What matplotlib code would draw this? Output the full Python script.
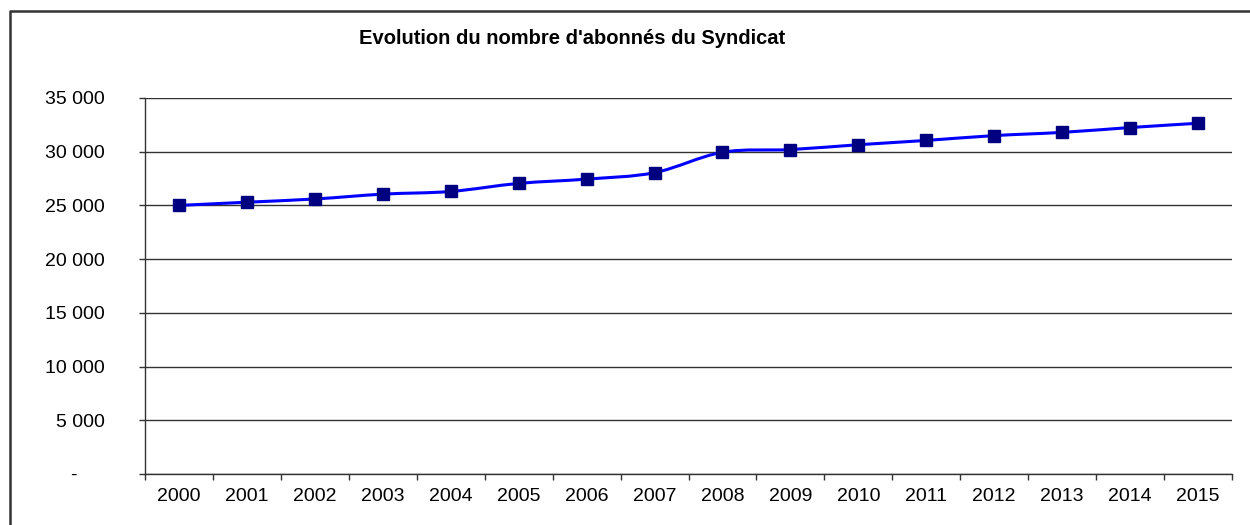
import numpy as np
import matplotlib
matplotlib.use("Agg")
import matplotlib.pyplot as plt
from matplotlib.path import Path
from matplotlib.patches import PathPatch
from matplotlib.lines import Line2D
from matplotlib.ticker import FuncFormatter, FixedLocator

# données
annees = [str(a) for a in range(2000, 2016)]
abonnes = [25000, 25300, 25600, 26050, 26300, 27050, 27450, 28050,
           29950, 30200, 30650, 31050, 31500, 31800, 32250, 32650]
titre = "Evolution du nombre d'abonnés du Syndicat"

plt.rcParams["font.family"] = ["Liberation Sans", "DejaVu Sans"]

fig = plt.figure(figsize=(12.5, 5.25), dpi=100)
ax = fig.add_axes([145/1250, 1-474/525, (1232-145)/1250, (474-98)/525])

x = np.arange(len(abonnes))
y = np.array(abonnes, dtype=float)

# courbe lissée façon Excel (Bezier type Catmull-Rom)
verts = [(x[0], y[0])]
codes = [Path.MOVETO]
n = len(x)
for i in range(n-1):
    p0 = np.array([x[max(i-1, 0)], y[max(i-1, 0)]])
    p1 = np.array([x[i], y[i]])
    p2 = np.array([x[i+1], y[i+1]])
    p3 = np.array([x[min(i+2, n-1)], y[min(i+2, n-1)]])
    c1 = p1 + (p2 - p0) / 6
    c2 = p2 - (p3 - p1) / 6
    verts += [tuple(c1), tuple(c2), tuple(p2)]
    codes += [Path.CURVE4] * 3
courbe = PathPatch(Path(verts, codes), facecolor="none", edgecolor="#0000FF",
                   linewidth=2.2, zorder=3)
ax.add_patch(courbe)
ax.plot(x, y, linestyle="none", marker="s", markersize=8, color="#000080", zorder=4)

ax.set_xlim(-0.5, len(abonnes) - 0.5)
ax.set_ylim(0, 35000)
ax.set_yticks(np.arange(0, 35001, 5000))

def fmt(v, pos):
    if v == 0:
        return "-     "
    return "{:,.0f}".format(v).replace(",", " ")
ax.yaxis.set_major_formatter(FuncFormatter(fmt))

ax.xaxis.set_major_locator(FixedLocator(np.arange(-0.5, len(abonnes), 1.0)))
ax.xaxis.set_major_formatter(FuncFormatter(lambda v, p: ""))
ax.xaxis.set_minor_locator(FixedLocator(x))
ax.set_xticklabels(annees, minor=True)

ax.tick_params(axis="x", which="major", direction="out", length=4, width=1, color="#333333")
ax.tick_params(axis="x", which="minor", length=0, pad=10, labelsize=14)
ax.tick_params(axis="y", direction="out", length=4, width=1, color="#333333",
               pad=25, labelsize=14)

ax.grid(axis="y", color="#333333", linewidth=1)
ax.set_axisbelow(True)
for s in ["top", "right"]:
    ax.spines[s].set_visible(False)
for s in ["left", "bottom"]:
    ax.spines[s].set_color("#333333")
    ax.spines[s].set_linewidth(1)

fig.text(572/1250, 1-39/525, titre, ha="center", va="center",
         fontsize=14.5, fontweight="bold")

# cadre extérieur
fig.add_artist(Line2D([10/1250, 10/1250, 1.01], [-0.01, 1-11/525, 1-11/525],
                      transform=fig.transFigure, color="#333333", linewidth=1.8))

fig.savefig("out.png", dpi=100)
